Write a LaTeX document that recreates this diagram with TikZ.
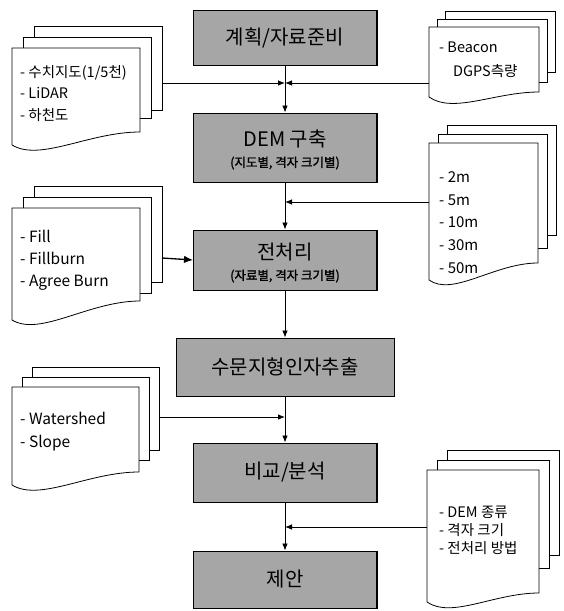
\documentclass[tikz,border=0pt]{standalone}
\usepackage{fontspec}
\setmainfont{Noto Sans CJK KR}
\newfontfamily\subbold[FakeBold=1.5]{Noto Sans CJK KR}
\usetikzlibrary{arrows.meta}
\tikzset{
  procbox/.style={draw=black, line width=0.9pt, fill=black!35, minimum width=183pt, inner sep=0pt},
  boxtitle/.style={inner sep=0pt, font=\fontsize{20}{22}\selectfont},
  boxsub/.style={inner sep=0pt, font=\subbold\fontsize{12.5}{14}\selectfont},
  edgeshade/.style={line width=1.6pt},
  arr/.style={line width=0.8pt, -{Latex[length=7pt,width=5.5pt]}},
  sheet/.style={draw=black, line width=0.8pt, fill=white},
  doctext/.style={anchor=west, align=left, inner sep=0pt},
}
% #1 L, #2 T, #3 R, #4 yL, #5 yR, #6 mid bottom, #7 back bottom, #8 step
\newcommand{\docstack}[8]{%
  \draw[sheet] ({#1+2*#8},{#2-2*#8}) rectangle ({#3+2*#8},#7);
  \draw[sheet] ({#1+#8},{#2-#8}) rectangle ({#3+#8},#6);
  \draw[sheet] (#1,#4) -- (#1,#2) -- (#3,#2) -- (#3,#5)
    .. controls ({#3-0.4*(#3-#1)},#5) and ({#1+0.22*(#3-#1)},{#4+17}) .. (#1,#4) -- cycle;
}
\newcommand{\shadeedge}[1]{\draw[edgeshade] (#1.north east) -- (#1.south east) -- (#1.south west);}
\begin{document}
\begin{tikzpicture}[x=1pt,y=-1pt]
\fill[white] (0,0) rectangle (564,611);
\useasboundingbox (0,0) rectangle (564,611);

% process boxes
\node[procbox, minimum height=55pt] (b1) at (285,37.5) {};
\node[procbox, minimum height=69pt] (b2) at (285,147.5) {};
\node[procbox, minimum height=60pt] (b3) at (285,260) {};
\node[procbox, minimum height=58pt, minimum width=218pt] (b4) at (285,367) {};
\node[procbox, minimum height=59pt] (b5) at (285,472.5) {};
\node[procbox, minimum height=57pt] (b6) at (285,579.5) {};
\foreach \b in {b1,b2,b3,b4,b5,b6} {\shadeedge{\b}}

\node[boxtitle] (t1) at (285,37.5) {계획/자료준비};
\node[boxtitle] (t2) at (285,139) {DEM 구축};
\node[boxsub] (s2) at (285,163) {(지도별, 격자 크기별)};
\node[boxtitle] (t3) at (285,252) {전처리};
\node[boxsub] (s3) at (285,276) {(자료별, 격자 크기별)};
\node[boxtitle] (t4) at (285,367) {수문지형인자추출};
\node[boxtitle] (t5) at (285,472.5) {비교/분석};
\node[boxtitle] (t6) at (285,579.5) {제안};

% document stacks
\docstack{12}{48}{140}{145}{132}{118}{110}{11}
\node[doctext, font=\fontsize{14.5}{21.5}\selectfont] (tA) at (20,93.5) {- 수치지도(1/5천)\\- LiDAR\\- 하천도};

\docstack{429}{27}{539}{97}{92}{82}{72}{8}
\node[doctext, font=\fontsize{14.5}{24}\selectfont] (tB) at (439,60) {- Beacon\\\hspace*{14pt}DGPS측량};

\docstack{429}{143}{538}{280}{263}{248}{235}{9}
\node[doctext, font=\fontsize{15}{22.7}\selectfont] (tC) at (439,222.5) {- 2m\\- 5m\\- 10m\\- 30m\\- 50m};

\docstack{12}{208}{140}{320}{301}{293}{282}{11}
\node[doctext, font=\fontsize{15.5}{22}\selectfont] (tD) at (20,260) {- Fill\\- Fillburn\\- Agree Burn};

\docstack{12}{387}{139}{485}{472}{460}{450}{10}
\node[doctext, font=\fontsize{15.5}{23}\selectfont] (tE) at (20,431.5) {- Watershed\\- Slope};

\docstack{427}{470}{539}{602}{593}{568}{555}{10}
\node[doctext, font=\fontsize{14.5}{18}\selectfont] (tF) at (439,530) {- DEM 종류\\- 격자 크기\\- 전처리 방법};

% connector end points
\coordinate (Aout) at (162,83);
\coordinate (Bout) at (429,83);
\coordinate (Cout) at (429,202);
\coordinate (Dout) at (162,258);
\coordinate (Eout) at (160,417);
\coordinate (Fout) at (427,527);
\coordinate (j1) at (285,83);
\coordinate (j2) at (285,202);
\coordinate (j4) at (285,417);
\coordinate (j5) at (285,527);

% main flow
\draw[arr] (b1) -- (b2);
\draw[arr] (b2) -- (b3);
\draw[arr] (b3) -- (b4);
\draw[arr] (b4) -- (b5);
\draw[arr] (b5) -- (b6);

% side inputs
\draw[arr] (Aout) -- (j1);
\draw[arr] (Bout) -- (j1);
\draw[arr] (Cout) -- (j2);
\draw[line width=1.3pt, -{Latex[length=9pt,width=7.5pt]}] (Dout) -- (b3.west);
\draw[arr] (Eout) -- (j4);
\draw[arr] (Fout) -- (j5);
\end{tikzpicture}
\end{document}
